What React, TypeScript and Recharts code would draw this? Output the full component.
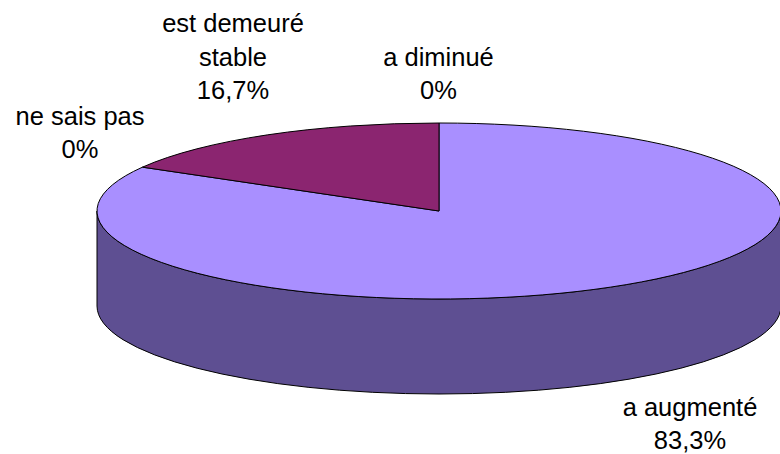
import React from "react";
import { PieChart, Pie, Cell } from "recharts";

const categories = ["a augmenté", "ne sais pas", "est demeuré stable", "a diminué"];
const percentages = [83.3, 0, 16.7, 0];
const topColors = ["#a98fff", "#a98fff", "#8b2570", "#ffffc8"];
const sideColors = ["#5e4f92", "#5e4f92", "#4d153e", "#8c8c6e"];
const labelRows = [["a augmenté"], ["ne sais pas"], ["est demeuré", "stable"], ["a diminué"]];

// centre de chaque etiquette et y de la derniere ligne
const labelAnchors = [
  { x: 690, y: 449 },
  { x: 80, y: 158 },
  { x: 233, y: 99 },
  { x: 438.5, y: 99 },
];

const chartData = categories.map((name, i) => ({ name, value: percentages[i] }));

const WIDTH = 780;
const HEIGHT = 454;
const CX = 439;
const CY = 211;
const RX = 342;
const RY = 88;
const DEPTH = 95;
const LINE_HEIGHT = 33.5;

const rad = (a: number) => (a * Math.PI) / 180;
const ptX = (cx: number, a: number) => cx + RX * Math.cos(rad(a));
const ptY = (cy: number, a: number) => cy - RY * Math.sin(rad(a));

// dessus de la tarte, aplati en ellipse
function TopSlice(props: any) {
  const { cx, cy, startAngle, endAngle, fill } = props;
  const span = startAngle - endAngle;
  if (span <= 0) return <g />;
  const large = span > 180 ? 1 : 0;
  const d = `M${cx},${cy} L${ptX(cx, startAngle)},${ptY(cy, startAngle)} A${RX},${RY} 0 ${large} 1 ${ptX(cx, endAngle)},${ptY(cy, endAngle)} Z`;
  return <path d={d} fill={fill} stroke="#000" strokeWidth={1} strokeLinejoin="round" />;
}

// cote visible: seulement la moitie avant de l'ellipse
function SideSlice(props: any) {
  const { cx, cy, startAngle, endAngle, fill } = props;
  const a0 = Math.min(startAngle, 0);
  const a1 = Math.max(endAngle, -180);
  if (a0 <= a1) return <g />;
  const d = `M${ptX(cx, a0)},${ptY(cy, a0)} A${RX},${RY} 0 0 1 ${ptX(cx, a1)},${ptY(cy, a1)} L${ptX(cx, a1)},${ptY(cy, a1) + DEPTH} A${RX},${RY} 0 0 0 ${ptX(cx, a0)},${ptY(cy, a0) + DEPTH} Z`;
  return <path d={d} fill={fill} stroke="#000" strokeWidth={1} strokeLinejoin="round" />;
}

function SliceLabel(props: any) {
  const { index, value } = props;
  const anchor = labelAnchors[index];
  const rows = [...labelRows[index], `${String(value).replace(".", ",")}%`];
  return (
    <text textAnchor="middle" fontFamily="Liberation Sans, Arial, sans-serif" fontSize={25.5} fill="#000">
      {rows.map((row, i) => (
        <tspan key={row} x={anchor.x} y={anchor.y - (rows.length - 1 - i) * LINE_HEIGHT}>
          {row}
        </tspan>
      ))}
    </text>
  );
}

export default function App() {
  return (
    <div style={{ position: "absolute", left: 0, top: 0, width: WIDTH, height: HEIGHT, background: "#fff" }}>
      <PieChart width={WIDTH} height={HEIGHT} margin={{ top: 0, right: 0, bottom: 0, left: 0 }}>
        <Pie
          data={chartData}
          dataKey="value"
          nameKey="name"
          cx={CX}
          cy={CY}
          outerRadius={RX}
          startAngle={90}
          endAngle={-270}
          stroke="#000"
          shape={SideSlice}
          isAnimationActive={false}
        >
          {sideColors.map((c, i) => (
            <Cell key={i} fill={c} />
          ))}
        </Pie>
        <Pie
          data={chartData}
          dataKey="value"
          nameKey="name"
          cx={CX}
          cy={CY}
          outerRadius={RX}
          startAngle={90}
          endAngle={-270}
          stroke="#000"
          shape={TopSlice}
          label={SliceLabel}
          labelLine={false}
          isAnimationActive={false}
        >
          {topColors.map((c, i) => (
            <Cell key={i} fill={c} />
          ))}
        </Pie>
      </PieChart>
    </div>
  );
}
